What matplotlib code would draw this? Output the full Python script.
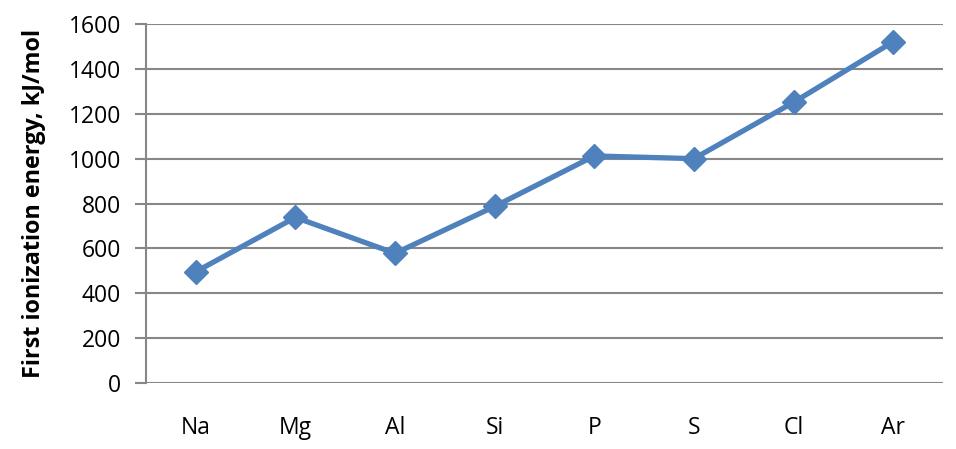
import matplotlib.pyplot as plt

plt.rcParams['font.family'] = ['Open Sans', 'DejaVu Sans']

# Datos de la gráfica
elementos = ['Na', 'Mg', 'Al', 'Si', 'P', 'S', 'Cl', 'Ar']
energia = [496, 738, 578, 787, 1012, 1000, 1251, 1521]
yticks = [0, 200, 400, 600, 800, 1000, 1200, 1400, 1600]

fig = plt.figure(figsize=(9.56, 4.49), dpi=100)
ax = fig.add_axes([0.1527, 0.147, 0.8337, 0.7995])

x = list(range(len(elementos)))
ax.plot(x, energia, color='#4F81BD', linewidth=3.8, marker='D', markersize=12,
        markerfacecolor='#4F81BD', markeredgecolor='#4F81BD', zorder=3)

ax.set_xlim(-0.5, len(elementos) - 0.5)
ax.set_ylim(0, 1600)
ax.set_yticks(yticks)
ax.set_xticks(x)
ax.set_xticklabels(elementos)

# Rejilla estilo Excel
ax.yaxis.grid(True, color='#878787', linewidth=1.5)
ax.set_axisbelow(True)
for lado in ['top', 'right', 'bottom']:
    ax.spines[lado].set_visible(False)
ax.spines['left'].set_color('#878787')
ax.spines['left'].set_linewidth(1.5)

ax.tick_params(axis='y', length=8, width=1.5, color='#878787', labelsize=16.5, pad=10)
ax.tick_params(axis='x', length=0, labelsize=16.5, pad=24)

ax.set_ylabel('First ionization energy, kJ/mol', fontsize=16.8, fontweight='bold', labelpad=16)

fig.savefig('out.png', dpi=100)
